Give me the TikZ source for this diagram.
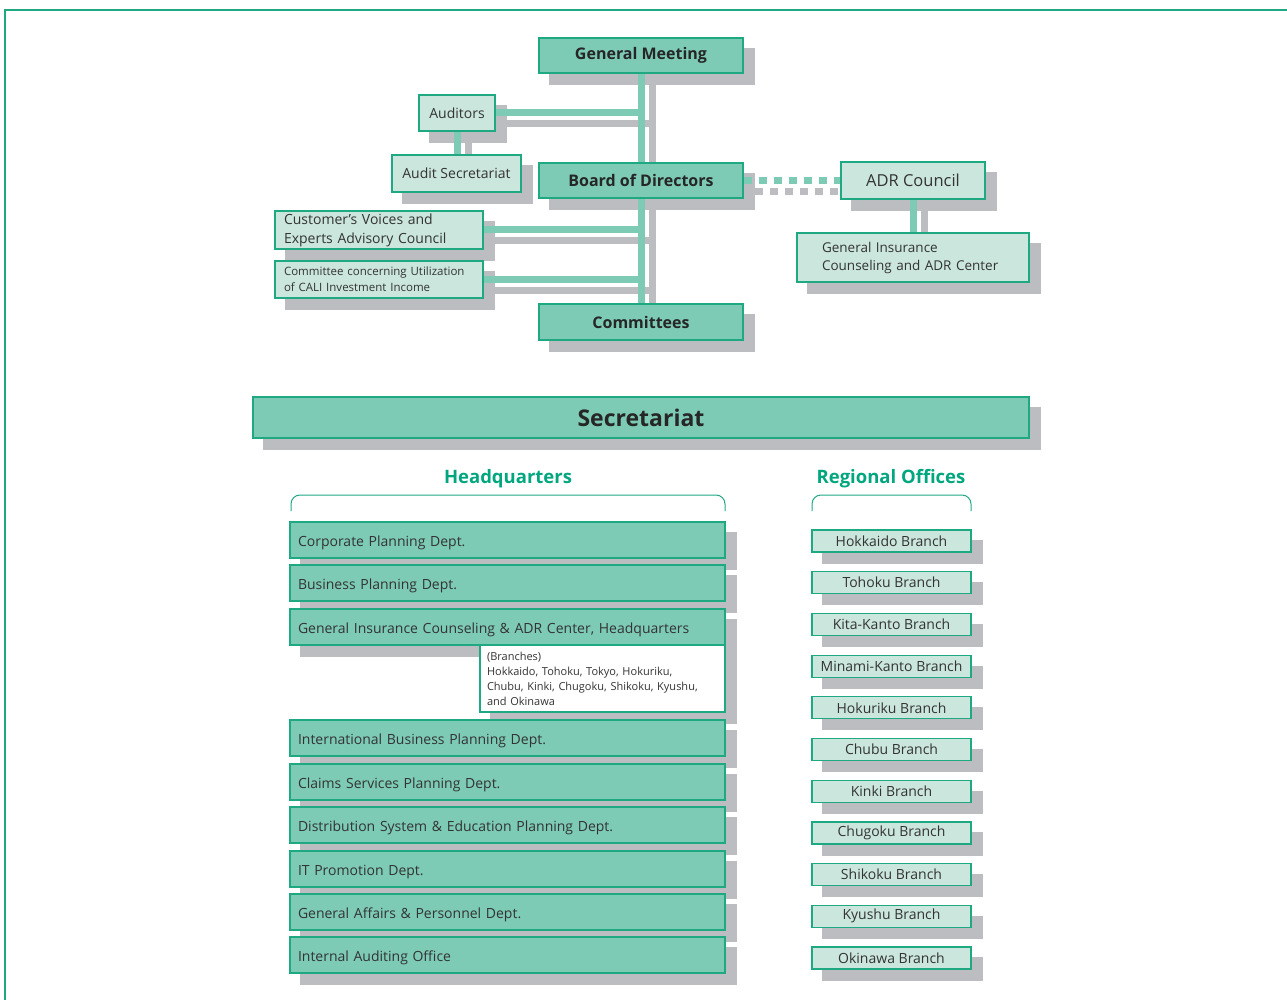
\documentclass[tikz,border=0pt]{standalone}
\usepackage{fontspec}
\setmainfont{Open Sans}
\usetikzlibrary{backgrounds,positioning}
\definecolor{boxgreen}{HTML}{7DCBB5}
\definecolor{palegreen}{HTML}{CBE7DD}
\definecolor{edgegreen}{HTML}{1EA983}
\definecolor{headgreen}{HTML}{00A67E}
\definecolor{shadowgray}{HTML}{BCBDC1}
\definecolor{inkgray}{HTML}{333333}
\pgfdeclarelayer{behind}
\pgfdeclarelayer{links}
\pgfsetlayers{behind,links,main}
\tikzset{
  unit/.style={rectangle,draw=edgegreen,line width=1.2pt,inner sep=0pt,text=inkgray},
  chief/.style={unit,fill=boxgreen,minimum width=204pt,minimum height=35pt,font=\fontsize{16}{19}\selectfont\bfseries,text=black!85},
  aide/.style={unit,fill=palegreen,font=\fontsize{14}{19}\selectfont},
  council/.style={aide,align=left,inner xsep=9pt,text width=190pt,minimum height=38pt},
  dept/.style={unit,fill=boxgreen,minimum height=36pt,inner xsep=8pt,text width=419pt,align=left,text height=14pt,text depth=2pt,font=\fontsize{14}{17}\selectfont},
  branch/.style={unit,fill=palegreen,minimum width=159pt,minimum height=22pt,font=\fontsize{14}{16}\selectfont},
  heading/.style={text=headgreen,font=\fontsize{18.5}{21}\selectfont\bfseries},
  bracket/.style={draw=edgegreen,line width=1pt,rounded corners=9pt},
  shadowfill/.style={fill=shadowgray},
  greenline/.style={draw=boxgreen,line width=7pt},
  shadowline/.style={draw=shadowgray,line width=7pt},
  adrdots/.style={dash pattern=on 8pt off 7pt},
  frame/.style={draw=edgegreen,line width=2pt}
}
% a link and its grey shadow
\newcommand{\orglink}[2][]{%
  \begin{pgfonlayer}{behind}
    \draw[shadowline,#1,transform canvas={shift={(11pt,-11pt)}}] #2;
  \end{pgfonlayer}
  \begin{pgfonlayer}{links}
    \draw[greenline,#1] #2;
  \end{pgfonlayer}}
\begin{document}
\begin{tikzpicture}[x=1pt,y=-1pt]
\useasboundingbox (0,0) rectangle (1287,1000);
\draw[frame] (1287,10) -| (5,1000);

% governing bodies
\node[chief] (gm) at (641,55.5) {General Meeting};
\node[chief] (board) at (641,180.5) {Board of Directors};
\node[chief,minimum height=36pt] (comm) at (641,322) {Committees};
\node[aide,minimum width=76pt,minimum height=36pt] (aud) at (457,113) {Auditors};
\node[aide,minimum width=129pt,minimum height=37pt] (audsec) at (456.5,173.5) {Audit Secretariat};
\node[council] (cvoice) at (379,230) {Customer's Voices and\\Experts Advisory Council};
\node[council,minimum height=37pt,font=\fontsize{11.5}{16}\selectfont] (cali) at (379,279.5) {Committee concerning Utilization\\of CALI Investment Income};
\node[aide,minimum width=144pt,minimum height=37pt,font=\fontsize{16.5}{19}\selectfont] (adr) at (913,180.5) {ADR Council};
\node[aide,align=left,inner xsep=25pt,text width=182pt,minimum height=49pt,font=\fontsize{13.5}{18}\selectfont] (gicadr) at (913,257.5) {General Insurance\\Counseling and ADR Center};

\orglink{(gm.south) -- (comm.north)}
\orglink{(aud.east) -- (aud.east -| gm.south)}
\orglink{(aud.south) -- (aud.south |- audsec.north)}
\orglink{(cvoice.east) -- (cvoice.east -| gm.south)}
\orglink{(cali.east) -- (cali.east -| gm.south)}
\orglink[adrdots]{(board.east) -- (adr.west)}
\orglink{(adr.south) -- (adr.south |- gicadr.north)}

% secretariat
\node[unit,fill=boxgreen,minimum width=776pt,minimum height=41pt,font=\fontsize{23}{26}\selectfont\bfseries,text=black!85] (secr) at (641,417.5) {Secretariat};

\node[heading] (hqhead) at (508,479) {Headquarters};
\node[heading] (rohead) at (891,479) {Regional Offices};
\draw[bracket] (291,511) |- (hqhead.south |- 0,495) -| (725,511);
\draw[bracket] (812,511) |- (rohead.south |- 0,495) -| (971,511);

\foreach \yc/\txt [count=\i] in {540/Corporate Planning Dept.,
    583/Business Planning Dept.,
    627/{General Insurance Counseling \& ADR Center, Headquarters},
    738/International Business Planning Dept.,
    782/Claims Services Planning Dept.,
    825/Distribution System \& Education Planning Dept.,
    869/IT Promotion Dept.,
    912/General Affairs \& Personnel Dept.,
    955/Internal Auditing Office}
  \node[dept] (hq\i) at (507.5,\yc) {\txt};
\node[unit,fill=white,minimum height=67pt,inner xsep=7pt,text width=231pt,align=left,font=\fontsize{11}{15}\selectfont] (brlist) at (602.5,678.5) {(Branches)\\Hokkaido, Tohoku, Tokyo, Hokuriku,\\Chubu, Kinki, Chugoku, Shikoku, Kyushu,\\and Okinawa};

\foreach \txt [count=\i from 0] in {Hokkaido,Tohoku,Kita-Kanto,Minami-Kanto,Hokuriku,Chubu,Kinki,Chugoku,Shikoku,Kyushu,Okinawa}
  \node[branch] (ro\i) at (891.5,{541+41.7*\i}) {\txt\ Branch};

% grey drop shadows
\begin{pgfonlayer}{behind}
  \foreach \n in {gm,board,comm,aud,audsec,cvoice,cali,adr,gicadr,secr,brlist,hq1,hq2,hq3,hq4,hq5,hq6,hq7,hq8,hq9,ro0,ro1,ro2,ro3,ro4,ro5,ro6,ro7,ro8,ro9,ro10}
    \fill[shadowfill] ([shift={(11pt,-11pt)}]\n.south west) rectangle ([shift={(11pt,-11pt)}]\n.north east);
\end{pgfonlayer}
\end{tikzpicture}
\end{document}
